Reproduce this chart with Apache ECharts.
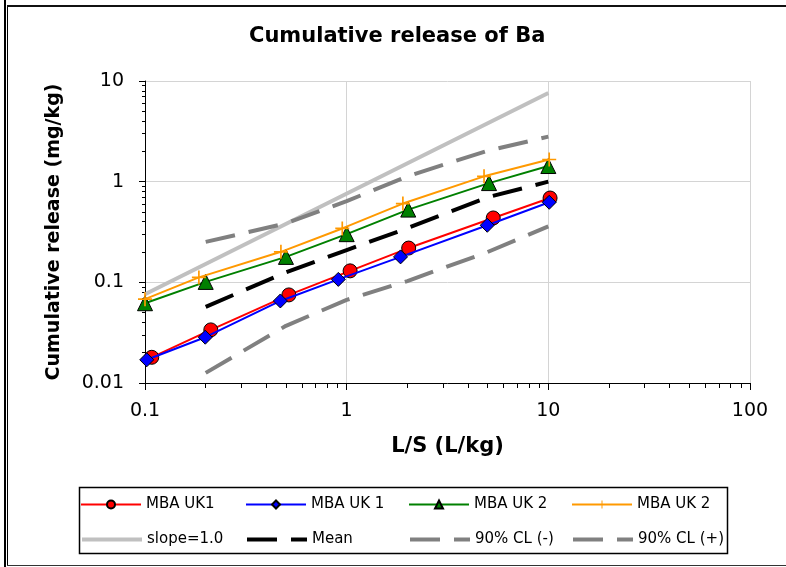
<!DOCTYPE html>
<html>
<head>
<meta charset="utf-8">
<script src="https://cdn.jsdelivr.net/npm/echarts@6/dist/echarts.min.js"></script>
<style>
html, body { margin: 0; padding: 0; background: #fff; }
#chart { width: 786px; height: 567px; }
</style>
</head>
<body>
<div id="chart"></div>
<script>
// L/S (L/kg) vs cumulative release (mg/kg)
const uk1aX = [0.108, 0.212, 0.517, 1.04, 2.03, 5.33, 10.2]
const uk1aY = [0.018, 0.0337, 0.075, 0.13, 0.219, 0.436, 0.688]
const uk1bX = [0.102, 0.199, 0.469, 0.909, 1.85, 4.98, 10.1]
const uk1bY = [0.017, 0.0285, 0.0653, 0.107, 0.179, 0.369, 0.624]
const uk2aX = [0.1, 0.2, 0.5, 1.0, 2.02, 5.08, 10.0]
const uk2aY = [0.062, 0.101, 0.179, 0.301, 0.528, 0.968, 1.43]
const uk2bX = [0.1, 0.185, 0.472, 0.951, 1.9, 4.8, 10.1]
const uk2bY = [0.068, 0.112, 0.201, 0.343, 0.606, 1.13, 1.66]
const slopeX = [0.1, 10]
const slopeY = [0.076, 7.6]
const fitX = [0.2, 0.5, 1, 2, 5, 10]
const meanY = [0.057, 0.126, 0.209, 0.345, 0.70, 1.0]
const clLowY = [0.0126, 0.037, 0.067, 0.103, 0.2, 0.36]
const clHighY = [0.252, 0.385, 0.64, 1.13, 2.03, 2.8]
const xRange = [0.1, 100]
const yRange = [0.01, 10]
// second "MBA UK 2" carries a trailing space so the legend keeps both entries apart
const names = ['MBA UK1', 'MBA UK 1', 'MBA UK 2', 'MBA UK 2 ', 'slope=1.0', 'Mean', '90% CL (-)', '90% CL (+)']

const FONT = 'DejaVu Sans'
const PLUS = 'path://M4.4,0H5.6V4.4H10V5.6H5.6V10H4.4V5.6H0V4.4H4.4Z'
const legendCols = [80, 245, 408, 571]
const legendRows = [497, 532]

function pairs(xs, ys) {
  return xs.map((x, i) => [x, ys[i]])
}

const chart = echarts.init(document.getElementById('chart'), null, { renderer: 'canvas' })

const markerSeries = (name, xs, ys, color, symbol, size, z) => ({
  name: name,
  type: 'line',
  data: pairs(xs, ys),
  symbol: symbol,
  symbolSize: size,
  showSymbol: true,
  z: z,
  lineStyle: { color: color, width: 2 },
  itemStyle: symbol === PLUS
    ? { color: color, borderWidth: 0 }
    : { color: color, borderColor: '#000', borderWidth: 1 }
})

const refSeries = (name, xs, ys, color, dashed) => ({
  name: name,
  type: 'line',
  data: pairs(xs, ys),
  symbol: 'none',
  showSymbol: false,
  z: 1,
  itemStyle: { color: color },
  lineStyle: { color: color, width: 4, type: dashed ? [30, 14] : 'solid', cap: 'butt' }
})

const legends = names.map((n, i) => ({
  data: [n],
  left: legendCols[i % 4],
  top: legendRows[Math.floor(i / 4)],
  orient: 'horizontal',
  padding: 0,
  itemWidth: 60,
  itemHeight: 10,
  selectedMode: false,
  lineStyle: { width: i < 4 ? 2 : 4 },
  // reference lines have no marker in the key
  itemStyle: i < 4 ? {} : { opacity: 0 },
  textStyle: { fontFamily: FONT, fontSize: 15, color: '#000' }
}))

const option = {
  animation: false,
  backgroundColor: '#fff',
  title: {
    text: 'Cumulative release of Ba',
    left: 249,
    top: 26,
    padding: 0,
    textStyle: { fontFamily: FONT, fontSize: 21, fontWeight: 'bold', color: '#000' }
  },
  legend: legends,
  grid: { left: 145, right: 36, top: 81, bottom: 184, containLabel: false },
  xAxis: {
    type: 'log',
    logBase: 10,
    min: xRange[0],
    max: xRange[1],
    name: 'L/S (L/kg)',
    nameLocation: 'middle',
    nameGap: 53,
    nameTextStyle: { fontFamily: FONT, fontSize: 21, fontWeight: 'bold', color: '#000' },
    axisLine: { show: true, onZero: false, lineStyle: { color: '#000', width: 1 } },
    axisTick: { show: true, inside: false, length: 7, lineStyle: { color: '#000' } },
    minorTick: { show: true, splitNumber: 9, length: 5, lineStyle: { color: '#000' } },
    axisLabel: {
      margin: 19,
      fontFamily: FONT, fontSize: 19, color: '#000',
      formatter: v => String(+v.toPrecision(3))
    },
    splitLine: { show: true, lineStyle: { color: '#d4d4d4', width: 1 } }
  },
  yAxis: {
    type: 'log',
    logBase: 10,
    min: yRange[0],
    max: yRange[1],
    name: 'Cumulative release (mg/kg)',
    nameLocation: 'middle',
    nameGap: 81,
    nameTextStyle: { fontFamily: FONT, fontSize: 19, fontWeight: 'bold', color: '#000' },
    axisLine: { show: true, onZero: false, lineStyle: { color: '#000', width: 1 } },
    axisTick: { show: true, inside: false, length: 6, lineStyle: { color: '#000' } },
    minorTick: { show: true, splitNumber: 9, length: 3, lineStyle: { color: '#000' } },
    axisLabel: {
      margin: 21,
      fontFamily: FONT, fontSize: 19, color: '#000',
      formatter: v => String(+v.toPrecision(3))
    },
    splitLine: { show: true, lineStyle: { color: '#d4d4d4', width: 1 } }
  },
  series: [
    markerSeries(names[0], uk1aX, uk1aY, '#ff0000', 'circle', 14, 5),
    markerSeries(names[1], uk1bX, uk1bY, '#0000ff', 'diamond', 14, 6),
    markerSeries(names[2], uk2aX, uk2aY, '#008000', 'triangle', 15, 7),
    markerSeries(names[3], uk2bX, uk2bY, '#ff9900', PLUS, 14, 8),
    refSeries(names[4], slopeX, slopeY, '#c0c0c0', false),
    refSeries(names[5], fitX, meanY, '#000000', true),
    refSeries(names[6], fitX, clLowY, '#808080', true),
    refSeries(names[7], fitX, clHighY, '#808080', true)
  ],
  graphic: [
    { type: 'rect', silent: true, shape: { x: 4, y: 0, width: 2, height: 567 }, style: { fill: '#000' } },
    { type: 'rect', silent: true, shape: { x: 7, y: 5, width: 1, height: 561 }, style: { fill: '#000' } },
    { type: 'rect', silent: true, shape: { x: 7, y: 5, width: 779, height: 2 }, style: { fill: '#111' } },
    { type: 'rect', silent: true, shape: { x: 7, y: 565, width: 779, height: 1 }, style: { fill: '#333' } },
    { type: 'rect', silent: true, shape: { x: 79.5, y: 487.5, width: 648, height: 66 }, style: { fill: 'none', stroke: '#000', lineWidth: 1.5 } }
  ]
}

chart.setOption(option)
</script>
</body>
</html>
